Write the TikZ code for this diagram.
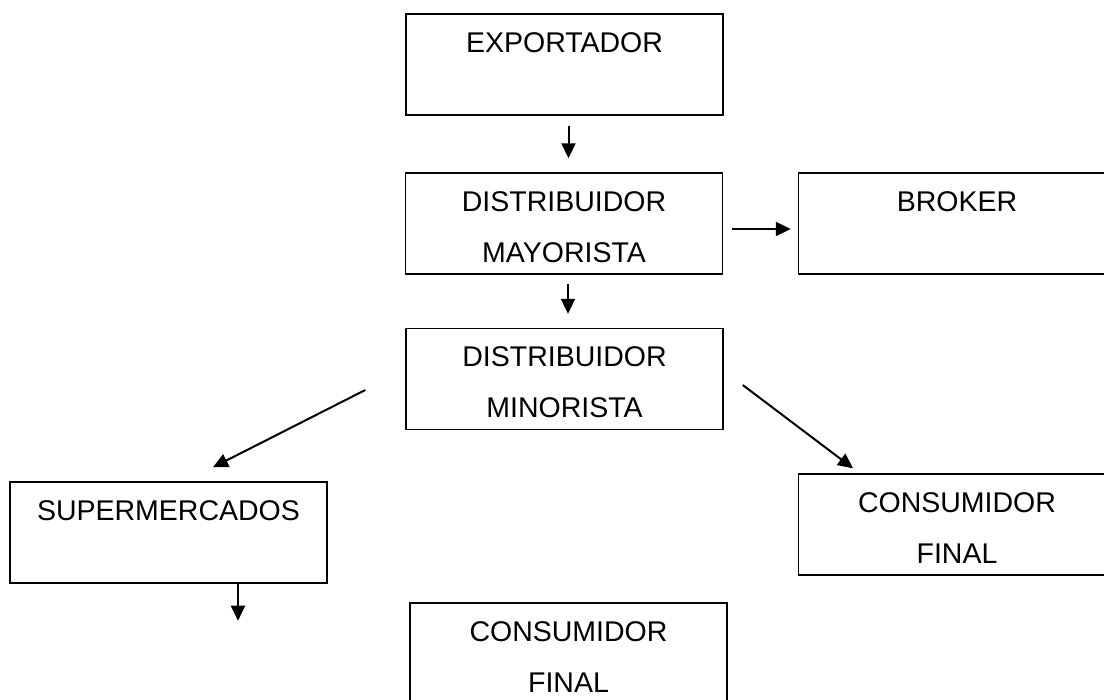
\documentclass[tikz,border=0pt]{standalone}
\usepackage{fontspec}
\setmainfont{Liberation Sans}
\usetikzlibrary{arrows.meta,calc}

\begin{document}
\begin{tikzpicture}[x=1pt,y=-1pt,
  box/.style={draw=black,line width=1.4pt,rectangle,inner sep=0pt,
    minimum width=317pt,minimum height=101pt},
  boxtext/.style={anchor=north,inner sep=0pt,align=center,
    font=\fontsize{28.5}{51}\selectfont,yshift=-19pt},
  arr/.style={line width=2pt,-{Triangle[length=15pt,width=14pt]}}]

  \useasboundingbox (0,0) rectangle (1104,700);
  \clip (0,0) rectangle (1104,700);

  % boxes
  \node[box] (exp) at (564.5,64.5) {};
  \node[box] (may) at (564,223.5) {};
  \node[box] (bro) at (957,223.5) {};
  \node[box] (min) at (564.5,379) {};
  \node[box] (sup) at (168.5,532.5) {};
  \node[box] (con1) at (957,524.5) {};
  \node[box] (con2) at (568.5,653.5) {};

  % box captions
  \node[boxtext] (expT) at (exp.north) {EXPORTADOR};
  \node[boxtext] (mayT) at (may.north) {DISTRIBUIDOR\\MAYORISTA};
  \node[boxtext] (broT) at (bro.north) {BROKER};
  \node[boxtext] (minT) at (min.north) {DISTRIBUIDOR\\MINORISTA};
  \node[boxtext] (supT) at (sup.north) {SUPERMERCADOS};
  \node[boxtext] (con1T) at (con1.north) {CONSUMIDOR\\FINAL};
  \node[boxtext] (con2T) at (con2.north) {CONSUMIDOR\\FINAL};

  % free ends of the diagonal and lower arrows
  \coordinate (a1) at ($(min.west)+(-40,11)$);
  \coordinate (b1) at ($(sup.north)+(44.5,-14)$);
  \coordinate (a2) at ($(min.east)+(19,6)$);
  \coordinate (b2) at ($(con1.north)+(-104,-5)$);
  \coordinate (a3) at ($(sup.south)+(69.5,0)$);
  \coordinate (b3) at ($(sup.south)+(69.5,37)$);

  % connectors
  \draw[arr,shorten <=10pt,shorten >=14pt]
    ([xshift=4pt]exp.south) -- ([xshift=4pt]exp.south |- may.north);
  \draw[arr,shorten <=9pt,shorten >=7pt]
    ([yshift=-5.5pt]may.east) -- ([yshift=-5.5pt]bro.west);
  \draw[arr,shorten <=9pt,shorten >=14pt]
    ([xshift=4pt]may.south) -- ([xshift=4pt]may.south |- min.north);
  \draw[arr] (a1) -- (b1);
  \draw[arr] (a2) -- (b2);
  \draw[arr] (a3) -- (b3);
\end{tikzpicture}
\end{document}
